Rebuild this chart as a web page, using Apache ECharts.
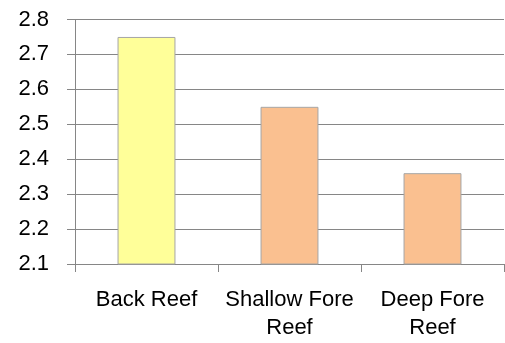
<!DOCTYPE html>
<html>
<head>
<meta charset="utf-8">
<script src="https://cdn.jsdelivr.net/npm/echarts@6/dist/echarts.min.js"></script>
<style>
html,body{margin:0;padding:0;background:#fff;}
#chart{width:505px;height:343px;}
</style>
</head>
<body>
<div id="chart"></div>
<script>
var categories = ["Back Reef", "Shallow Fore Reef", "Deep Fore Reef"];
var categoryLines = ["Back Reef", "Shallow Fore\nReef", "Deep Fore\nReef"];
var values = [2.75, 2.55, 2.36];
var barColors = ["#FFFF99", "#FAC090", "#FAC090"];
var yMin = 2.1, yMax = 2.8, yStep = 0.1;

var chart = echarts.init(document.getElementById('chart'), null, {renderer: 'canvas'});
var font = '"Liberation Sans", Arial, sans-serif';
chart.setOption({
  animation: false,
  backgroundColor: '#ffffff',
  grid: {left: 75, right: 1, top: 19.5, bottom: 79, containLabel: false},
  xAxis: {
    type: 'category',
    data: categories,
    axisLine: {show: true, lineStyle: {color: '#868686', width: 1}},
    axisTick: {show: true, length: 8, alignWithLabel: false, lineStyle: {color: '#868686'}},
    axisLabel: {
      color: '#000', fontSize: 22, fontFamily: font, margin: 22, lineHeight: 28,
      interval: 0,
      formatter: function (v, i) { return categoryLines[categories.indexOf(v)]; }
    },
    splitLine: {show: false}
  },
  yAxis: {
    type: 'value',
    min: yMin, max: yMax, interval: yStep,
    axisLine: {show: true, lineStyle: {color: '#868686', width: 1}},
    axisTick: {show: true, length: 8, inside: false, lineStyle: {color: '#868686'}},
    axisLabel: {
      color: '#000', fontSize: 22, fontFamily: font, margin: 26,
      formatter: function (v) { return v.toFixed(1); }
    },
    splitLine: {show: true, lineStyle: {color: '#868686', width: 1}}
  },
  series: [{
    type: 'bar',
    data: values.map(function (v, i) {
      return {value: v, itemStyle: {color: barColors[i]}};
    }),
    barWidth: '40.5%',
    itemStyle: {borderColor: '#A6A6A6', borderWidth: 1}
  }]
});
</script>
</body>
</html>
